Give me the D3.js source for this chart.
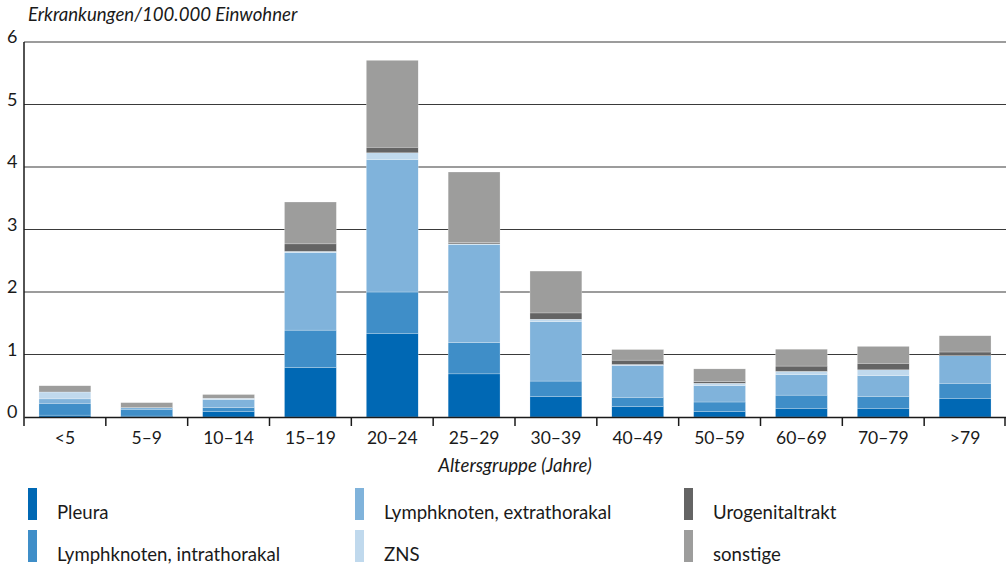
<!DOCTYPE html>
<html><head><meta charset="utf-8">
<script src="https://cdn.jsdelivr.net/npm/d3@7"></script>
<style>body{margin:0;background:#fff}svg{display:block;font-family:Lato,"Open Sans",sans-serif}</style>
</head><body><svg id="c" width="1006" height="568"></svg>
<script>
const categories = ["<5","5–9","10–14","15–19","20–24","25–29","30–39","40–49","50–59","60–69","70–79",">79"];
const seriesNames = ["Pleura","Lymphknoten, intrathorakal","Lymphknoten, extrathorakal","ZNS","Urogenitaltrakt","sonstige"];
const pleura   = [0.03,0.015,0.085,0.79,1.34,0.69,0.325,0.165,0.085,0.14,0.14,0.30];
const intra    = [0.19,0.11,0.065,0.60,0.66,0.50,0.25,0.15,0.155,0.21,0.19,0.24];
const extra    = [0.07,0.025,0.13,1.24,2.12,1.57,0.95,0.51,0.26,0.33,0.33,0.44];
const zns      = [0.11,0,0.02,0.02,0.107,0.01,0.04,0.015,0.04,0.05,0.095,0];
const uro      = [0,0,0,0.12,0.09,0.02,0.10,0.07,0.03,0.085,0.105,0.06];
const sonstige = [0.10,0.08,0.06,0.67,1.39,1.13,0.67,0.17,0.20,0.27,0.27,0.26];
const yTicks = [0,1,2,3,4,5,6];
const colors = ["#0068b4","#3f8ec8","#80b3db","#c0d9ed","#646464","#9d9d9c"];

const seriesVals = [pleura,intra,extra,zns,uro,sonstige];
const rows = categories.map((c,i)=>{const r={cat:c};seriesNames.forEach((s,j)=>r[s]=seriesVals[j][i]);return r;});
const stack = d3.stack().keys(seriesNames)(rows);

const svg = d3.select("#c");
const x = d3.scaleBand().domain(categories).range([24,1006]).paddingInner(0.366).paddingOuter(0.183);
const xb = d3.scaleBand().domain(categories).range([24,1006]);
const y = d3.scaleLinear().domain([0,6]).range([417,42]);

// gridlines
svg.append("g").selectAll("line").data(yTicks.filter(d=>d>0)).join("line")
  .attr("x1",24).attr("x2",1006).attr("y1",d=>y(d)).attr("y2",d=>y(d))
  .attr("stroke","#3a3a3a").attr("stroke-width",1.2);

// y labels
svg.append("g").selectAll("text").data(yTicks).join("text")
  .attr("x",7).attr("y",d=>y(d)+1).text(d=>d)
  .attr("font-size",18).attr("fill","#1a1a1a");

// bars
svg.append("g").selectAll("g").data(stack).join("g")
  .attr("fill",(d,i)=>colors[i])
  .selectAll("rect").data(d=>d).join("rect")
  .attr("x",d=>x(d.data.cat)).attr("width",x.bandwidth())
  .attr("y",d=>y(d[1])).attr("height",d=>y(d[0])-y(d[1]))
  .attr("stroke","#ffffff").attr("stroke-width",0.4).attr("stroke-opacity",0.6);

// axes
svg.append("line").attr("x1",24).attr("x2",24).attr("y1",42).attr("y2",417).attr("stroke","#1a1a1a").attr("stroke-width",1.5);
const xAxis = svg.append("g").attr("transform","translate(0,417)")
  .call(d3.axisBottom(xb).tickSize(0).tickSizeOuter(0).tickPadding(15));
xAxis.select(".domain").attr("stroke","#1a1a1a").attr("stroke-width",1.5);
xAxis.selectAll("text").attr("font-size",17.5).attr("fill","#1a1a1a").attr("font-family","Lato,sans-serif");
const bounds = categories.map(c=>xb(c)).concat([1006]);
svg.append("g").selectAll("line").data(bounds).join("line")
  .attr("x1",d=>Math.min(d,1005)).attr("x2",d=>Math.min(d,1005)).attr("y1",417).attr("y2",426)
  .attr("stroke","#1a1a1a").attr("stroke-width",1.5);

// titles
svg.append("text").attr("x",28).attr("y",21).attr("font-size",18.6).attr("font-style","italic").attr("fill","#1a1a1a").text("Erkrankungen/100.000 Einwohner");
svg.append("text").attr("x",515).attr("y",472).attr("text-anchor","middle").attr("font-size",18.6).attr("font-style","italic").attr("fill","#1a1a1a").text("Altersgruppe (Jahre)");

// legend
const legPos = [[28,488],[28,530],[355,488],[355,530],[684,488],[684,530]];
const leg = svg.append("g").selectAll("g").data(seriesNames).join("g")
  .attr("transform",(d,i)=>`translate(${legPos[i][0]},${legPos[i][1]})`);
leg.append("rect").attr("width",9).attr("height",32).attr("fill",(d,i)=>colors[i]);
leg.append("text").attr("x",29).attr("y",31).attr("font-size",18.6).attr("fill","#1a1a1a").text(d=>d);
</script></body></html>
